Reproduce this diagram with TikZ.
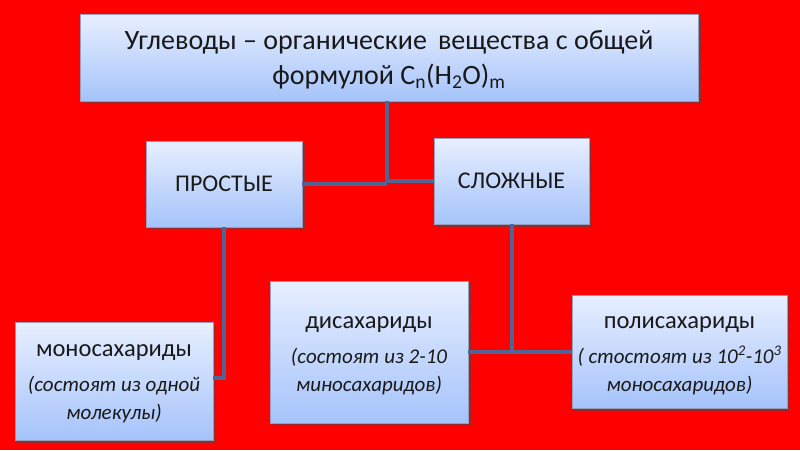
\documentclass[tikz,border=0pt]{standalone}
\usepackage{fontspec}
\setmainfont{Carlito}
\usetikzlibrary{shadows}
\definecolor{bgred}{RGB}{255,0,0}
\definecolor{boxtop}{RGB}{232,239,255}
\definecolor{boxbot}{RGB}{165,195,250}
\definecolor{boxline}{RGB}{150,160,190}
\definecolor{conn}{RGB}{80,100,150}
\definecolor{txt}{RGB}{25,25,25}
\tikzset{
  card/.style={draw=boxline, line width=0.6pt, top color=boxtop, bottom color=boxbot,
    drop shadow={shadow xshift=2.5pt, shadow yshift=-2.5pt, opacity=0.55, fill=black!70},
    align=center, inner sep=2pt, text=txt},
  link/.style={draw=conn, line width=3.5pt},
}
\newcommand{\subline}[1]{{\fontsize{21}{27}\selectfont\itshape #1}}
\begin{document}
\begin{tikzpicture}[x=1pt,y=-1pt]
\fill[bgred] (0,0) rectangle (800,450);
\useasboundingbox (0,0) rectangle (800,450);
\node[card, minimum width=618pt, minimum height=87pt, font=\fontsize{28}{35}\selectfont] (top) at (389,57.5) {};
\node[font=\fontsize{28}{35}\selectfont, align=center, text=txt] (toptext) at (389,60)
  {Углеводы – органические\, вещества с общей\\формулой C\textsubscript{n}(H\textsubscript{2}O)\textsubscript{m}};
\node[card, minimum width=156pt, minimum height=86pt, font=\fontsize{24}{28}\selectfont] (p) at (224,184) {ПРОСТЫЕ};
\node[card, minimum width=155pt, minimum height=86pt, font=\fontsize{24}{28}\selectfont] (s) at (511.5,181) {СЛОЖНЫЕ};
\node[card, minimum width=198pt, minimum height=118pt] (mono) at (114,381) {};
\node[font=\fontsize{24.5}{28}\selectfont, align=center, text=txt] (monotext) at (114,384)
  {моносахариды\\[7pt]\subline{(состоят из одной}\\\subline{молекулы)}};
\node[card, minimum width=198pt, minimum height=142pt] (di) at (369,352) {};
\node[font=\fontsize{24.5}{28}\selectfont, align=center, text=txt] (ditext) at (369,355.5)
  {дисахариды\\[7pt]\subline{(состоят из 2-10}\\\subline{миносахаридов)}};
\node[card, minimum width=215pt, minimum height=113pt] (poly) at (679.5,351.5) {};
\node[font=\fontsize{24.5}{28}\selectfont, align=center, text=txt] (polytext) at (679.5,355.5)
  {полисахариды\\[7pt]\subline{( стостоят из 10\textsuperscript{2}-10\textsuperscript{3}}\\\subline{моносахаридов)}};
\coordinate (j) at (387,182);
\coordinate (k) at (512,352);
\draw[link] (j |- top.south) -- (j);
\draw[link] (p.east) -- (p.east -| j);
\draw[link] (s.west) -- (s.west -| j);
\draw[link] (p.south) -- (p.south |- 0,378) -- (mono.east |- 0,378);
\draw[link] (s.south -| k) -- (k);
\draw[link] (di.east |- k) -- (poly.west |- k);
\end{tikzpicture}
\end{document}
